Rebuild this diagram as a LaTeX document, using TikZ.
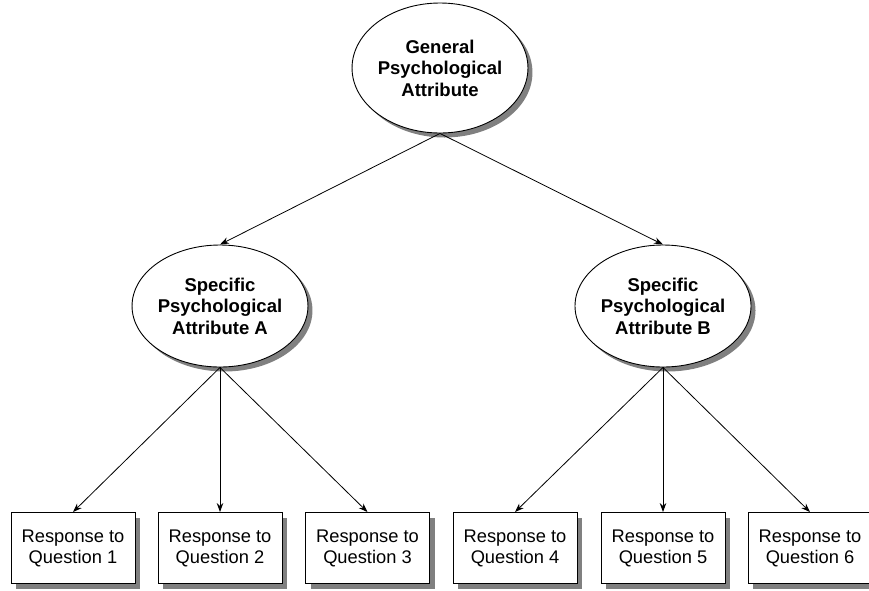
\documentclass[tikz,border=0pt]{standalone}
\usepackage{fontspec}
\setmainfont{Liberation Sans}
\usetikzlibrary{shapes.geometric,shadows,arrows.meta}

\tikzset{
  attr/.style={ellipse, draw=black, line width=0.9pt, fill=white, inner sep=0pt,
    align=center, font=\fontsize{18.5}{21.5}\selectfont\bfseries,
    drop shadow={shadow xshift=4.5pt, shadow yshift=-4.5pt, fill=black!50, opacity=1}},
  resp/.style={rectangle, draw=black, line width=0.9pt, fill=white, inner sep=0pt,
    minimum width=124pt, minimum height=71pt, align=center,
    font=\fontsize{18.3}{21}\selectfont,
    drop shadow={shadow xshift=5pt, shadow yshift=-5pt, fill=black!50, opacity=1}},
  link/.style={line width=0.8pt, -{Stealth[length=9pt, width=6.5pt]}}
}

\begin{document}
\begin{tikzpicture}[x=1pt, y=-1pt]
  \useasboundingbox (0,0) rectangle (869,590);
  \clip (0,0) rectangle (869,590);

  % attribute hierarchy
  \node[attr, minimum width=170pt, minimum height=130pt] (gen) at (440,68)
    {General\\Psychological\\Attribute};
  \node[attr, minimum width=174pt, minimum height=122pt] (spA) at (220,306)
    {Specific\\Psychological\\Attribute A};
  \node[attr, minimum width=176pt, minimum height=122pt] (spB) at (663,306)
    {Specific\\Psychological\\Attribute B};

  % item responses
  \node[resp] (q1) at (73,548)    {Response to\\Question 1};
  \node[resp] (q2) at (220,548)   {Response to\\Question 2};
  \node[resp] (q3) at (367.5,548) {Response to\\Question 3};
  \node[resp] (q4) at (515,548)   {Response to\\Question 4};
  \node[resp] (q5) at (663,548)   {Response to\\Question 5};
  \node[resp] (q6) at (810,548)   {Response to\\Question 6};

  % paths
  \draw[link] (gen.south) -- (spA.north);
  \draw[link] (gen.south) -- (spB.north);
  \draw[link] (spA.south) -- (q1.north);
  \draw[link] (spA.south) -- (q2.north);
  \draw[link] (spA.south) -- (q3.north);
  \draw[link] (spB.south) -- (q4.north);
  \draw[link] (spB.south) -- (q5.north);
  \draw[link] (spB.south) -- (q6.north);
\end{tikzpicture}
\end{document}
